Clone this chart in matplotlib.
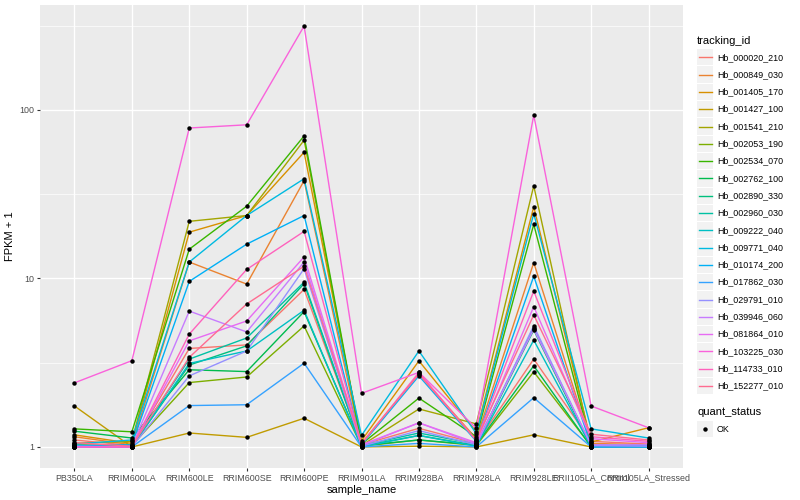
import matplotlib
matplotlib.use("Agg")
import matplotlib.pyplot as plt
from matplotlib.lines import Line2D
from matplotlib.patches import Rectangle
import numpy as np

plt.rcParams['font.family'] = ['Liberation Sans', 'DejaVu Sans']

samples = ["PB350LA", "RRIM600LA", "RRIM600LE", "RRIM600SE", "RRIM600PE",
           "RRIM901LA", "RRIM928BA", "RRIM928LA", "RRIM928LE",
           "RRII105LA_Control", "RRII105LA_Stressed"]

tracking_ids = ["Hb_000020_210", "Hb_000849_030", "Hb_001405_170", "Hb_001427_100",
                "Hb_001541_210", "Hb_002053_190", "Hb_002534_070", "Hb_002762_100",
                "Hb_002890_330", "Hb_002960_030", "Hb_009222_040", "Hb_009771_040",
                "Hb_010174_200", "Hb_017862_030", "Hb_029791_010", "Hb_039946_060",
                "Hb_081864_010", "Hb_103225_030", "Hb_114733_010", "Hb_152277_010"]

colors = ["#F8766D", "#EA8331", "#D89000", "#C09B00", "#A3A500", "#7CAE00",
          "#39B600", "#00BB4E", "#00BF7D", "#00C1A3", "#00BFC4", "#00BAE0",
          "#00B0F6", "#35A2FF", "#9590FF", "#C77CFF", "#E76BF3", "#FA62DB",
          "#FF62BC", "#FF6C91"]

# FPKM + 1 values per gene, in the order of `samples`
hb_000020_210 = [1.10, 1.02, 3.84, 4.03, 8.6, 1.03, 1.29, 1.05, 3.32, 1.08, 1.04]
hb_000849_030 = [1.15, 1.03, 12.5, 9.25, 38, 1.05, 2.70, 1.12, 12.4, 1.05, 1.03]
hb_001405_170 = [1.18, 1.05, 18.8, 23.6, 56, 1.09, 3.24, 1.23, 26.6, 1.07, 1.30]
hb_001427_100 = [1.75, 1.00, 1.21, 1.14, 1.48, 1.00, 1.01, 1.00, 1.18, 1.00, 1.00]
hb_001541_210 = [1.05, 1.08, 21.8, 23.6, 66, 1.02, 1.68, 1.37, 35.4, 1.02, 1.02]
hb_002053_190 = [1.03, 1.02, 2.41, 2.60, 5.22, 1.01, 1.10, 1.02, 2.79, 1.01, 1.01]
hb_002534_070 = [1.28, 1.23, 14.9, 26.8, 70, 1.04, 1.95, 1.15, 20.9, 1.03, 1.02]
hb_002762_100 = [1.24, 1.13, 2.87, 2.80, 6.35, 1.02, 1.10, 1.03, 3.03, 1.00, 1.00]
hb_002890_330 = [1.02, 1.01, 3.06, 3.98, 9.3, 1.01, 1.17, 1.02, 4.94, 1.00, 1.00]
hb_002960_030 = [1.01, 1.02, 3.32, 4.43, 9.5, 1.02, 1.21, 1.04, 5.11, 1.01, 1.00]
hb_009222_040 = [1.00, 1.00, 3.13, 3.71, 6.47, 1.00, 1.17, 1.01, 4.30, 1.00, 1.00]
hb_009771_040 = [1.04, 1.10, 12.5, 23.6, 39, 1.17, 3.71, 1.20, 24.2, 1.28, 1.13]
hb_010174_200 = [1.02, 1.03, 9.6, 15.96, 23.6, 1.03, 2.64, 1.08, 10.3, 1.02, 1.02]
hb_017862_030 = [1.00, 1.00, 1.76, 1.78, 3.14, 1.00, 1.05, 1.00, 1.96, 1.00, 1.00]
hb_029791_010 = [1.01, 1.00, 2.64, 3.71, 11.4, 1.01, 1.25, 1.03, 5.23, 1.02, 1.01]
hb_039946_060 = [1.00, 1.01, 6.4, 4.81, 12.5, 1.02, 1.39, 1.04, 5.0, 1.03, 1.03]
hb_081864_010 = [1.00, 1.00, 4.26, 5.59, 13.4, 1.03, 1.39, 1.06, 6.8, 1.12, 1.06]
hb_103225_030 = [2.40, 3.25, 78, 81.5, 314, 2.08, 2.77, 1.29, 93, 1.75, 1.30]
hb_114733_010 = [1.00, 1.00, 4.67, 11.3, 19, 1.04, 2.77, 1.09, 8.4, 1.15, 1.08]
hb_152277_010 = [1.06, 1.01, 3.40, 7.05, 11.8, 1.05, 2.70, 1.10, 6.07, 1.19, 1.10]

series = [hb_000020_210, hb_000849_030, hb_001405_170, hb_001427_100, hb_001541_210,
          hb_002053_190, hb_002534_070, hb_002762_100, hb_002890_330, hb_002960_030,
          hb_009222_040, hb_009771_040, hb_010174_200, hb_017862_030, hb_029791_010,
          hb_039946_060, hb_081864_010, hb_103225_030, hb_114733_010, hb_152277_010]

W, H = 800, 500
fig = plt.figure(figsize=(8, 5), dpi=100)
L, R, B, T = 40, 683, 468, 5
ax = fig.add_axes([L / W, 1 - B / H, (R - L) / W, (B - T) / H])
ax.set_facecolor("#EBEBEB")

x = np.arange(len(samples))
for vals, c in zip(series, colors):
    ax.plot(x, vals, color=c, lw=1.0, zorder=3, solid_capstyle='butt')
for vals in series:
    ax.plot(x, vals, ls='none', marker='o', ms=3.2, color='black', mew=0, zorder=4)

ax.set_yscale('log')
lo, hi = np.log10(1.0), np.log10(314)
ex = (hi - lo) * 0.05
ax.set_ylim(10 ** (lo - ex), 10 ** (hi + ex))
ax.set_xlim(-0.6, len(samples) - 1 + 0.6)

ax.set_yticks([1, 10, 100])
ax.set_yticklabels(["1", "10", "100"])
ax.set_yticks([10 ** 0.5, 10 ** 1.5, 10 ** 2.5], minor=True)
ax.yaxis.set_minor_formatter(plt.NullFormatter())
ax.set_xticks(x)
ax.set_xticklabels(samples)

ax.grid(True, which='major', color='white', lw=1.0, zorder=1)
ax.grid(True, which='minor', axis='y', color='white', lw=0.5, zorder=1)
ax.set_axisbelow(True)
for s in ax.spines.values():
    s.set_visible(False)
ax.tick_params(axis='both', which='major', length=2.5, width=0.8, color='#333333',
               labelcolor='#4D4D4D', labelsize=6.4, pad=1.5)
ax.tick_params(axis='y', which='minor', length=0)

ax.set_xlabel("sample_name", fontsize=8, color='black', labelpad=2)
ax.set_ylabel("FPKM + 1", fontsize=8, color='black', labelpad=3)

# Legend: tracking_id
def fy(py):
    return 1 - py / H

fig.text(697 / W, fy(40.7), "tracking_id", fontsize=8, va='center', ha='left')
key_h = 17.3
for i, (tid, c) in enumerate(zip(tracking_ids, colors)):
    cy = 57.3 + i * key_h
    fig.add_artist(Rectangle((697 / W, fy(cy + key_h / 2 - 0.5)), 16 / W, (key_h - 1) / H,
                             transform=fig.transFigure, facecolor='#F2F2F2',
                             edgecolor='none'))
    fig.add_artist(Line2D([698.5 / W, 711.5 / W], [fy(cy), fy(cy)], color=c, lw=1.0,
                          transform=fig.transFigure))
    fig.text(717 / W, fy(cy), tid, fontsize=6.4, va='center', ha='left')

fig.text(697 / W, fy(412), "quant_status", fontsize=8, va='center', ha='left')
cy = 429.3
fig.add_artist(Rectangle((697 / W, fy(cy + key_h / 2 - 0.5)), 16 / W, (key_h - 1) / H,
                         transform=fig.transFigure, facecolor='#F2F2F2', edgecolor='none'))
fig.add_artist(Line2D([705 / W], [fy(cy)], marker='o', ms=3.2, mew=0, color='black',
                      ls='none', transform=fig.transFigure))
fig.text(717 / W, fy(cy), "OK", fontsize=6.4, va='center', ha='left')

fig.savefig("out.png", dpi=100, facecolor='white')
